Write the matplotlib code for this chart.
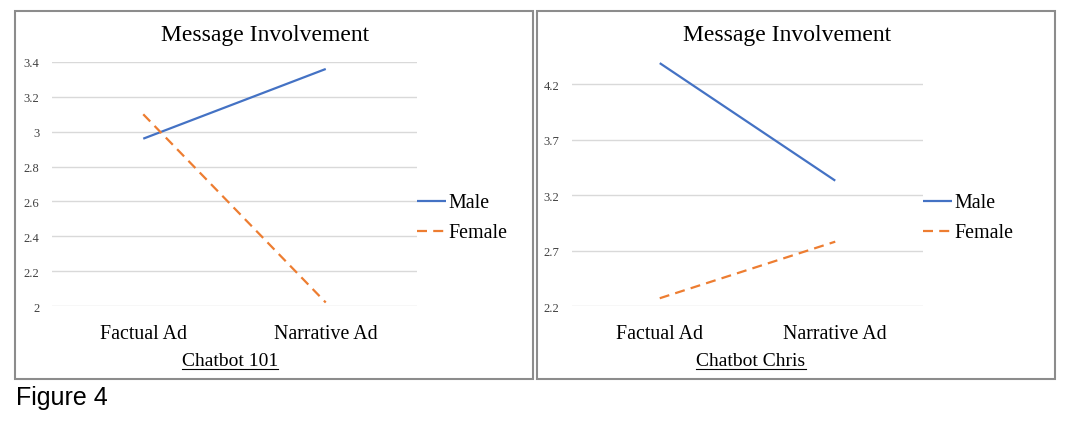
import matplotlib
matplotlib.use("Agg")
import matplotlib.pyplot as plt
from matplotlib.patches import Rectangle
from matplotlib.lines import Line2D

W, H = 1071, 427

ads = ["Factual Ad", "Narrative Ad"]
groups = ["Male", "Female"]

male_101 = [2.96, 3.36]
female_101 = [3.10, 2.02]
ticks_101 = [2, 2.2, 2.4, 2.6, 2.8, 3, 3.2, 3.4]
tick_labels_101 = ["2", "2.2", "2.4", "2.6", "2.8", "3", "3.2", "3.4"]

male_chris = [4.39, 3.33]
female_chris = [2.27, 2.78]
ticks_chris = [2.2, 2.7, 3.2, 3.7, 4.2]
tick_labels_chris = ["2.2", "2.7", "3.2", "3.7", "4.2"]

blue = "#4472C4"
orange = "#ED7D31"
serif = "Liberation Serif"

fig = plt.figure(figsize=(W / 100, H / 100), dpi=100)


def px_axes(x0, y0, x1, y1):
    return fig.add_axes([x0 / W, 1 - y1 / H, (x1 - x0) / W, (y1 - y0) / H])


def panel(box, plot, male, female, ticks, labels, ylim, title, sub, sub_x):
    bx0, by0, bx1, by1 = box
    fig.patches.append(Rectangle((bx0 / W, 1 - by1 / H), (bx1 - bx0) / W, (by1 - by0) / H,
                                 transform=fig.transFigure, fill=False,
                                 edgecolor="#8c8c8c", linewidth=1.5))
    ax = px_axes(*plot)
    x = range(len(ads))
    ax.plot(x, male, color=blue, linewidth=1.6, solid_capstyle="butt", label=groups[0])
    ax.plot(x, female, color=orange, linewidth=1.6, dashes=(4.5, 2.8), label=groups[1])
    ax.set_xlim(-0.5, 1.5)
    ax.set_ylim(*ylim)
    ax.set_yticks(ticks)
    ax.set_yticklabels(labels, fontfamily=serif, fontsize=9, color="#404040")
    ax.set_xticks(list(x))
    ax.set_xticklabels(ads, fontfamily=serif, fontsize=14.3)
    ax.tick_params(length=0)
    ax.tick_params(axis="y", pad=9)
    ax.tick_params(axis="x", pad=13)
    ax.grid(axis="y", color="#d9d9d9", linewidth=1)
    ax.set_axisbelow(True)
    for s in ax.spines.values():
        s.set_visible(False)
    ax.patch.set_alpha(0)

    fig.text(((bx0 + bx1) / 2 - 9) / W, 1 - 36 / H, title, ha="center", va="center",
             fontfamily=serif, fontsize=17)
    t = fig.text(sub_x / W, 1 - 362 / H, sub, ha="center", va="center",
                 fontfamily=serif, fontsize=14)
    ax.legend(loc="center left", bbox_to_anchor=(plot[2] / W, 1 - 219 / H),
              bbox_transform=fig.transFigure, frameon=False,
              prop={"family": serif, "size": 14.4}, handlelength=1.45,
              handletextpad=0.1, labelspacing=0.55, borderpad=0, borderaxespad=0)
    return t


subs = []
subs.append(panel((15, 12, 533, 380), (52, 63, 417, 307), male_101, female_101,
                  ticks_101, tick_labels_101, (2, 3.4), "Message Involvement", "Chatbot 101", 230))
subs.append(panel((537, 12, 1055, 380), (572, 63, 923, 307), male_chris, female_chris,
                  ticks_chris, tick_labels_chris, (2.2, 4.4), "Message Involvement", "Chatbot Chris", 751))

fig.text(16 / W, 1 - 398 / H, "Figure 4", ha="left", va="center",
         fontfamily="Liberation Sans", fontsize=18)

# underline the panel captions
fig.canvas.draw()
r = fig.canvas.get_renderer()
for t in subs:
    bb = t.get_window_extent(r)
    y = bb.y0 + 1
    fig.add_artist(Line2D([bb.x0 / W, bb.x1 / W], [y / H, y / H], transform=fig.transFigure,
                          color="black", linewidth=0.8))

fig.savefig("out.png", dpi=100)
